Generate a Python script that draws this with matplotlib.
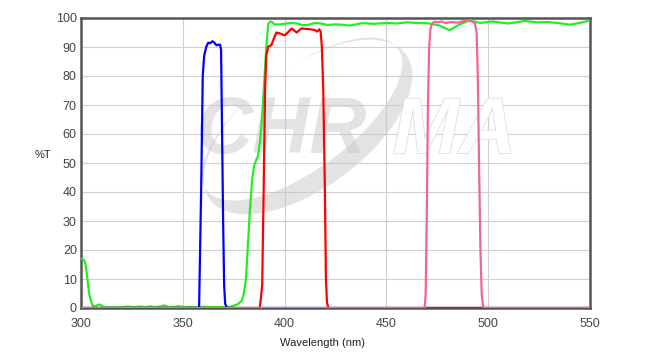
import matplotlib
matplotlib.use('Agg')
import matplotlib.pyplot as plt
import matplotlib.patheffects as pe
from matplotlib.path import Path
from matplotlib.patches import PathPatch
from matplotlib.transforms import IdentityTransform
import numpy as np

plt.rcParams['font.family'] = ['Liberation Sans', 'DejaVu Sans']

# 초록 필터 (long pass)
green_x = [300, 301, 302, 303, 304, 305, 306, 307, 308, 309, 310, 311, 315, 320, 323, 326, 329, 332, 334, 336,
           339, 341, 343, 346, 348, 351, 354, 357, 360, 365, 370, 373, 375, 377, 379, 380, 381, 382, 383, 384,
           385, 386, 387, 388, 389, 390, 391, 392, 393, 394, 395, 398, 400, 403, 406, 409, 412, 415, 418, 421,
           425, 428, 432, 438, 444, 450, 455, 460, 465, 470, 476, 481, 486, 491, 496, 502, 510, 518, 524, 529,
           535, 540, 545, 549, 550]
green_y = [17, 16.8, 16, 11, 5, 2, 0.6, 0.5, 1.0, 1.2, 0.9, 0.3, 0.2, 0.3, 0.5, 0.3, 0.5, 0.3, 0.6, 0.3,
           0.5, 0.9, 0.3, 0.4, 0.6, 0.3, 0.4, 0.3, 0.4, 0.3, 0.3, 0.4, 0.8, 1.3, 2.5, 5, 10, 22, 34, 44,
           49, 51, 52.5, 58, 66, 78, 90, 98, 98.8, 98.5, 97.8, 97.8, 98, 98.3, 98.1, 97.5, 97.7, 98.3, 98.1, 97.6,
           97.8, 97.7, 97.4, 98.2, 98.0, 98.3, 98.1, 98.5, 98.3, 98.2, 97.4, 95.8, 97.8, 99.2, 98.3, 98.8, 98.1, 99.0, 98.5, 98.6,
           98.2, 97.7, 98.3, 99.0, 99.0]

# 파랑 필터
blue_x = [300, 357.5, 358, 359, 359.8, 360.5, 361.5, 362.5, 363.5, 364.5, 365.5, 366.5, 367.5, 368.3, 368.8,
          369.3, 369.8, 370.3, 370.8, 371.5, 372, 550]
blue_y = [0, 0, 0, 40, 80, 87, 90, 91.5, 91.3, 92, 91.5, 90.6, 90.8, 90.8, 89,
          60, 30, 8, 1.5, 0.3, 0, 0]

# 빨강 필터
red_x = [300, 387.8, 388.3, 389, 389.7, 390.4, 391, 392, 393.5, 394.5, 396, 398, 400, 402, 403.5, 405, 406,
         407.5, 408.5, 411, 413, 415, 416, 417, 417.7, 418.3, 419, 419.8, 420.3, 420.8, 421.5, 550]
red_y = [0, 0, 3, 8, 40, 75, 87, 90.2, 90.6, 92.5, 95, 94.6, 94, 95.3, 96.4, 95.5, 95,
         96, 96.4, 96.2, 96.1, 95.8, 95.3, 96.1, 95.4, 90, 75, 40, 10, 2, 0, 0]

# 분홍 필터
pink_x = [300, 468.8, 469.3, 469.8, 470.4, 471, 471.6, 472.3, 473.5, 475, 477, 479, 482, 485, 488, 490, 492,
          493.5, 494.3, 494.9, 495.5, 496.2, 496.8, 497.4, 498, 550]
pink_y = [0, 0, 5, 30, 70, 90, 96, 98, 98.7, 98.5, 98.8, 98.3, 98.6, 98.4, 98.9, 99.3, 98.8,
          98.2, 95, 80, 50, 20, 5, 1, 0, 0]

W, H = 652, 354
fig = plt.figure(figsize=(W/100, H/100), dpi=100)
ax = fig.add_axes([81/W, 46/H, 509/W, 290/H])

# 워터마크 (픽셀 좌표, 위에서부터)
def ellipse_pts(cx, cy, a, b, ang, reverse=False):
    t = np.linspace(0, 2*np.pi, 200)
    if reverse:
        t = t[::-1]
    c, s = np.cos(ang), np.sin(ang)
    ex, ey = a*np.cos(t), b*np.sin(t)
    return np.column_stack([cx + ex*c - ey*s, cy + ex*s + ey*c])

ang = np.deg2rad(36.6)
cx, cy = 308, H - 127
ux, uy = -np.sin(ang), np.cos(ang)  # 위쪽 왼편 방향
outer = ellipse_pts(cx, cy, 122, 60, ang)
inner = ellipse_pts(cx + 10*ux, cy + 10*uy, 119, 50, ang, reverse=True)
verts = np.vstack([outer, outer[:1], inner, inner[:1]])
codes = ([Path.MOVETO] + [Path.LINETO]*(len(outer)-1) + [Path.CLOSEPOLY]) * 2
swoosh = PathPatch(Path(verts, codes), transform=IdentityTransform(), facecolor='#c8c8c8',
                   edgecolor='none', alpha=0.5, zorder=1)
ax.add_artist(swoosh)

ax.text(195, H - 153, 'CHR', transform=IdentityTransform(), fontsize=57, fontweight='bold',
        fontstyle='italic', color='#c8c8c8', alpha=0.5, ha='left', va='baseline', zorder=1)
ax.text(393, H - 153, 'MA', transform=IdentityTransform(), fontsize=57, fontweight='bold',
        fontstyle='italic', color='white', ha='left', va='baseline', zorder=1,
        path_effects=[pe.Stroke(linewidth=1.2, foreground='#dddddd'), pe.Normal()])

ax.plot(green_x, green_y, color='#22ee22', lw=1.6, zorder=3)
ax.plot(blue_x, blue_y, color='#0000ff', lw=1.6, zorder=3)
ax.plot(red_x, red_y, color='#ff0000', lw=1.6, zorder=3)
ax.plot(pink_x, pink_y, color='#f0649a', lw=1.6, zorder=4)

ax.set_xlim(300, 550)
ax.set_ylim(0, 100)
ax.set_xticks(range(300, 551, 50))
ax.set_yticks(range(0, 101, 10))
ax.grid(True, color='#d0d0d0', lw=0.8)
ax.set_axisbelow(True)
ax.tick_params(length=0, labelsize=9, labelcolor='#444444')
ax.tick_params(axis='x', pad=7)
ax.tick_params(axis='y', pad=3)
for s in ax.spines.values():
    s.set_color('#555555')
    s.set_linewidth(1.8)

fig.text(43/W, 1 - 155/H, '%T', fontsize=8, color='#222222', ha='center', va='center')
fig.text(323/W, 1 - 343/H, 'Wavelength (nm)', fontsize=8, color='#222222', ha='center', va='center')

fig.savefig('out.png', dpi=100)
